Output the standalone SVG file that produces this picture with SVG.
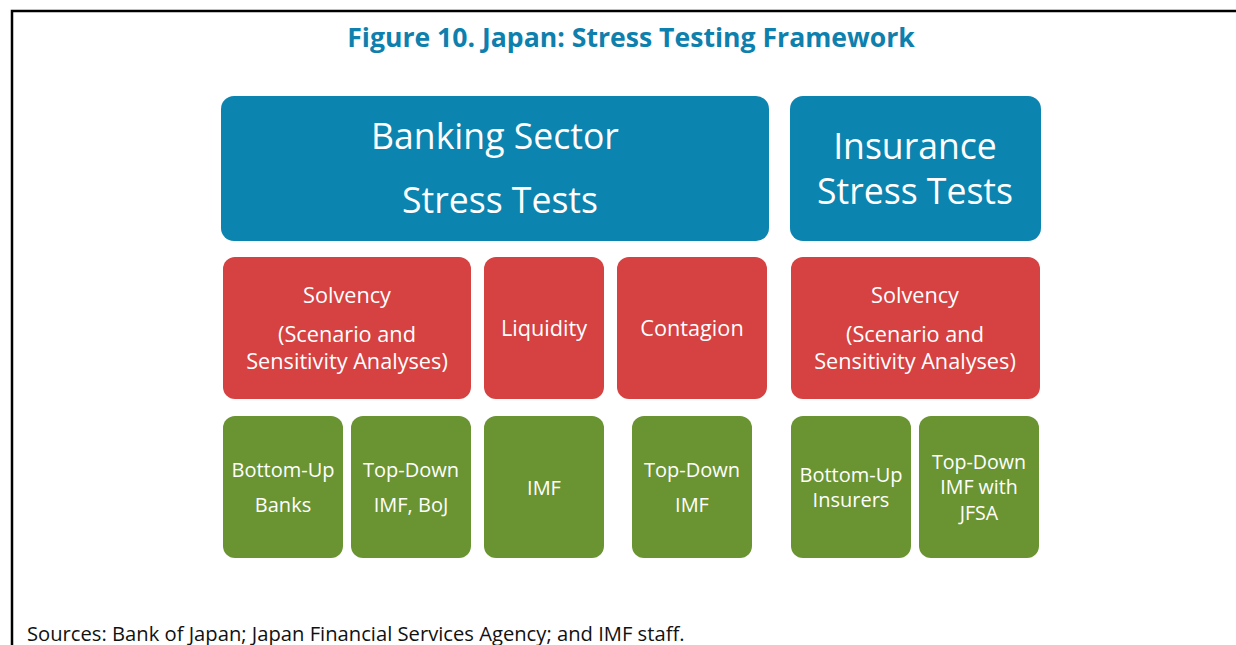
<svg xmlns="http://www.w3.org/2000/svg" width="1236" height="645" viewBox="0 0 1236 645">
  <style>
    .frame { stroke: #000; stroke-width: 2.5; fill: none; }
    .title { font-family: "Open Sans", "Noto Sans", sans-serif; font-weight: bold; font-size: 26.6px; fill: #0e80ad; }
    .src { font-family: "Open Sans", "Noto Sans", sans-serif; font-size: 20.2px; fill: #111; }
    .blue { fill: #0b84b0; }
    .red { fill: #d64141; }
    .green { fill: #6a9431; }
    .hd { font-family: "Open Sans", "Noto Sans", sans-serif; font-size: 35.6px; fill: #fff; text-anchor: middle; }
    .md { font-family: "Open Sans", "Noto Sans", sans-serif; font-size: 21.7px; fill: #fff; text-anchor: middle; }
    .sm { font-family: "Open Sans", "Noto Sans", sans-serif; font-size: 20px; fill: #fff; text-anchor: middle; }
    .tight { font-size: 19.6px; }
  </style>

  <rect width="1236" height="645" fill="#fff"/>
  <!-- page frame: top rule and left rule -->
  <path class="frame" d="M12 645 V11 H1236"/>

  <text class="title" x="631" y="47" text-anchor="middle">Figure 10. Japan: Stress Testing Framework</text>

  <!-- header level -->
  <g id="banking">
    <rect class="blue" x="221" y="96" width="548" height="145" rx="13"/>
    <text class="hd" x="495" y="149">Banking Sector</text>
    <text class="hd" x="500" y="213">Stress Tests</text>
  </g>
  <g id="insurance">
    <rect class="blue" x="790" y="96" width="251" height="145" rx="13"/>
    <text class="hd" x="915" y="159">Insurance</text>
    <text class="hd" x="915" y="204">Stress Tests</text>
  </g>

  <!-- test types -->
  <g id="bank-solvency">
    <rect class="red" x="223" y="257" width="248" height="142" rx="12"/>
    <text class="md" x="347" y="303">Solvency</text>
    <text class="md" x="347" y="342">(Scenario and</text>
    <text class="md" x="347" y="369">Sensitivity Analyses)</text>
  </g>
  <g id="liquidity">
    <rect class="red" x="484" y="257" width="120" height="142" rx="12"/>
    <text class="md" x="544" y="336">Liquidity</text>
  </g>
  <g id="contagion">
    <rect class="red" x="617" y="257" width="150" height="142" rx="12"/>
    <text class="md" x="692" y="336">Contagion</text>
  </g>
  <g id="ins-solvency">
    <rect class="red" x="791" y="257" width="249" height="142" rx="12"/>
    <text class="md" x="915" y="303">Solvency</text>
    <text class="md" x="915" y="342">(Scenario and</text>
    <text class="md" x="915" y="369">Sensitivity Analyses)</text>
  </g>

  <!-- approaches -->
  <g id="bu-banks">
    <rect class="green" x="223" y="416" width="120" height="142" rx="12"/>
    <text class="sm" x="283" y="477">Bottom-Up</text>
    <text class="sm" x="283" y="512">Banks</text>
  </g>
  <g id="td-imf-boj">
    <rect class="green" x="351" y="416" width="120" height="142" rx="12"/>
    <text class="sm" x="411" y="477">Top-Down</text>
    <text class="sm" x="411" y="512">IMF, BoJ</text>
  </g>
  <g id="imf-liq">
    <rect class="green" x="484" y="416" width="120" height="142" rx="12"/>
    <text class="sm" x="544" y="495">IMF</text>
  </g>
  <g id="td-imf">
    <rect class="green" x="632" y="416" width="120" height="142" rx="12"/>
    <text class="sm" x="692" y="477">Top-Down</text>
    <text class="sm" x="692" y="512">IMF</text>
  </g>
  <g id="bu-insurers">
    <rect class="green" x="791" y="416" width="120" height="142" rx="12"/>
    <text class="sm" x="851" y="482">Bottom-Up</text>
    <text class="sm" x="851" y="507">Insurers</text>
  </g>
  <g id="td-imf-jfsa">
    <rect class="green" x="919" y="416" width="120" height="142" rx="12"/>
    <text class="sm tight" x="979" y="469">Top-Down</text>
    <text class="sm tight" x="979" y="494">IMF with</text>
    <text class="sm tight" x="979" y="520">JFSA</text>
  </g>

  <g id="connectors"/>

  <text class="src" x="27" y="641">Sources: Bank of Japan; Japan Financial Services Agency; and IMF staff.</text>
</svg>
